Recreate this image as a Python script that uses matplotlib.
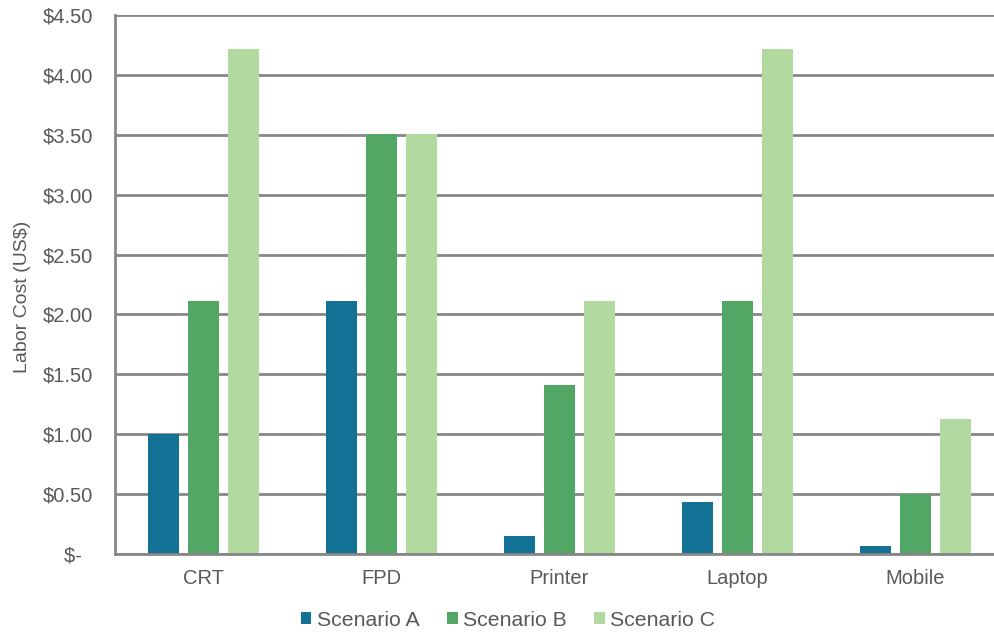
import matplotlib
matplotlib.use("Agg")
import matplotlib.pyplot as plt
import numpy as np
from matplotlib.patches import Patch

categories = ["CRT", "FPD", "Printer", "Laptop", "Mobile"]
scenario_a = [1.00, 2.11, 0.15, 0.43, 0.07]
scenario_b = [2.11, 3.51, 1.41, 2.11, 0.50]
scenario_c = [4.22, 3.51, 2.11, 4.22, 1.13]
series_names = ["Scenario A", "Scenario B", "Scenario C"]
colors = ["#147196", "#53a764", "#b2d9a0"]
yticks = [0, 0.5, 1.0, 1.5, 2.0, 2.5, 3.0, 3.5, 4.0, 4.5]
ytick_labels = ["$-  ", "$0.50", "$1.00", "$1.50", "$2.00", "$2.50",
                "$3.00", "$3.50", "$4.00", "$4.50"]

plt.rcParams["font.family"] = ["Liberation Sans", "DejaVu Sans"]
text_color = "#595959"
grid_color = "#878787"

fig = plt.figure(figsize=(9.94, 6.34), dpi=100)
ax = fig.add_axes([115 / 994, 80 / 634, 889 / 994, 539 / 634])

x = np.arange(len(categories))
width = 0.174
step = 0.225
for i, (vals, col) in enumerate(zip([scenario_a, scenario_b, scenario_c], colors)):
    ax.bar(x + (i - 1) * step, vals, width=width, color=col, zorder=3)

ax.set_xlim(-0.5, len(categories) - 0.5)
ax.set_ylim(0, 4.5)
ax.set_yticks(yticks)
ax.set_yticklabels(ytick_labels)
ax.set_xticks(x)
ax.set_xticklabels(categories)
ax.tick_params(axis="both", length=0, labelsize=14.5, colors=text_color)
ax.tick_params(axis="y", pad=16)
ax.tick_params(axis="x", pad=11)

ax.grid(axis="y", color=grid_color, linewidth=2, zorder=0)
for s in ["top", "right"]:
    ax.spines[s].set_visible(False)
for s in ["left", "bottom"]:
    ax.spines[s].set_color(grid_color)
    ax.spines[s].set_linewidth(2)
    ax.spines[s].set_zorder(4)

ax.set_ylabel("Labor Cost (US$)", fontsize=14, color=text_color)
ax.yaxis.set_label_coords(-0.095, 0.477)

handles = [Patch(facecolor=c, edgecolor="none") for c in colors]
fig.legend(handles, series_names, loc="center", bbox_to_anchor=(508 / 994, 1 - 620 / 634),
           ncol=3, frameon=False, fontsize=15.3, handlelength=0.5, handleheight=0.5,
           handletextpad=0.25, columnspacing=1.3, labelcolor=text_color)

fig.savefig("out.png", dpi=100)
